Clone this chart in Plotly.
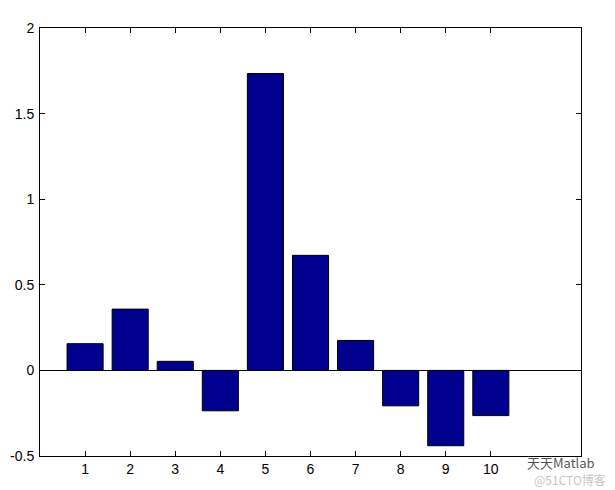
import plotly.graph_objects as go

categories = [1, 2, 3, 4, 5, 6, 7, 8, 9, 10]
values = [0.156, 0.358, 0.053, -0.236, 1.734, 0.672, 0.175, -0.207, -0.440, -0.264]
x_ticks = [1, 2, 3, 4, 5, 6, 7, 8, 9, 10]
y_ticks = [-0.5, 0, 0.5, 1, 1.5, 2]
y_tick_labels = ["-0.5", "0", "0.5", "1", "1.5", "2"]

fig = go.Figure(go.Bar(
    x=categories, y=values, width=0.8,
    marker=dict(color="rgb(0,0,143)", line=dict(color="black", width=1)),
))

axis_font = dict(family="Liberation Sans, Arial, sans-serif", size=14, color="black")
fig.update_layout(
    width=607, height=482,
    margin=dict(l=32, r=34, t=20, b=34),
    paper_bgcolor="white", plot_bgcolor="white",
    showlegend=False,
    xaxis=dict(range=[0, 12], tickmode="array", tickvals=x_ticks, automargin=False,
               ticks="inside", ticklen=5, tickcolor="black",
               showline=True, linecolor="black", linewidth=1, mirror="ticks",
               showgrid=False, zeroline=False, tickfont=axis_font),
    yaxis=dict(range=[-0.5, 2], tickmode="array", tickvals=y_ticks, ticktext=y_tick_labels,
               automargin=False, ticklabelstandoff=2,
               ticks="inside", ticklen=5, tickcolor="black",
               showline=True, linecolor="black", linewidth=1, mirror="ticks",
               showgrid=False, zeroline=True, zerolinecolor="black", zerolinewidth=1,
               tickfont=axis_font),
)

fig.add_annotation(x=1.03, y=-0.016, xref="paper", yref="paper", text="天天Matlab",
                   showarrow=False, xanchor="right", yanchor="middle",
                   font=dict(family="Noto Sans CJK SC", size=13, color="rgba(50,50,50,0.85)"))
fig.add_annotation(x=1.05, y=-0.054, xref="paper", yref="paper", text="@51CTO博客",
                   showarrow=False, xanchor="right", yanchor="middle",
                   font=dict(family="Noto Sans CJK SC", size=12, color="rgba(170,170,170,0.7)"))

fig.write_html("out.html")
